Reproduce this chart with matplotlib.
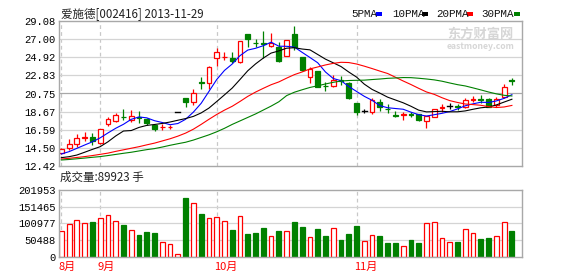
import matplotlib
matplotlib.use("Agg")
import matplotlib.pyplot as plt
import numpy as np
import pandas as pd
from matplotlib.patches import Rectangle

plt.rcParams['font.family'] = ['Noto Sans CJK SC', 'DejaVu Sans']

# ---------------- data ----------------
title = "爱施德[002416] 2013-11-29"
opens = [13.87, 14.50, 14.95, 15.65, 15.79, 15.10, 17.20, 17.55, 18.03, 17.72,
         18.00, 17.82, 17.13, 16.90, 16.90, 18.65, 20.27, 19.80, 22.05, 21.92,
         24.79, 24.95, 24.79, 24.33, 27.59, 26.55, 26.52, 26.20, 26.05, 25.10,
         27.59, 24.90, 22.68, 23.33, 21.65, 21.60, 22.25, 21.99, 19.62, 18.78,
         18.66, 19.74, 19.00, 18.26, 18.30, 18.38, 18.36, 17.60, 18.09, 19.10,
         19.35, 19.27, 19.24, 20.05, 20.10, 20.08, 19.43, 20.31, 22.25]
highs = [14.45, 15.55, 16.06, 16.29, 16.17, 16.70, 18.00, 18.55, 19.00, 18.85,
         18.78, 17.90, 17.13, 17.20, 17.12, 18.65, 20.27, 21.27, 22.68, 23.91,
         26.02, 25.56, 25.48, 26.80, 27.59, 26.97, 27.93, 27.66, 26.63, 26.90,
         28.50, 24.98, 23.83, 23.33, 22.10, 22.87, 22.80, 22.10, 19.62, 19.00,
         20.20, 20.08, 19.50, 18.74, 18.66, 18.66, 18.36, 18.20, 19.00, 19.50,
         19.70, 19.50, 20.20, 20.46, 20.58, 20.20, 20.31, 21.84, 22.57]
lows = [13.80, 14.26, 14.64, 15.33, 14.83, 14.95, 17.00, 17.44, 17.70, 17.50,
        17.32, 17.10, 16.44, 16.60, 16.67, 18.65, 19.24, 19.43, 21.27, 21.27,
        23.95, 24.60, 24.20, 24.30, 26.05, 26.05, 24.79, 26.05, 24.40, 25.10,
        25.80, 23.37, 21.90, 21.46, 21.04, 21.46, 21.70, 20.08, 18.28, 18.47,
        18.40, 18.78, 18.47, 18.00, 17.70, 18.10, 17.60, 16.82, 18.00, 18.66,
        19.00, 18.85, 19.04, 19.80, 19.70, 19.16, 19.24, 20.20, 21.72]
closes = [14.37, 15.00, 15.60, 15.71, 15.33, 16.63, 17.82, 18.28, 18.00, 18.20,
          17.97, 17.32, 16.63, 16.95, 16.95, 18.65, 19.75, 20.77, 22.00, 23.76,
          25.48, 24.99, 24.48, 26.78, 26.97, 26.50, 26.48, 26.50, 24.48, 26.90,
          26.05, 23.45, 23.56, 21.46, 21.60, 22.30, 22.20, 20.19, 18.66, 18.78,
          20.00, 19.16, 18.97, 18.22, 18.36, 18.33, 17.70, 18.20, 18.97, 19.16,
          19.35, 19.22, 20.00, 20.10, 20.05, 19.24, 20.08, 21.50, 22.20]
volumes = [78400, 98500, 111500, 101500, 105500, 116500, 125600, 108500, 96500, 81400,
           66300, 75400, 72300, 45200, 39200, 8000, 177800, 161800, 129600, 116500,
           119600, 108500, 81400, 122600, 69300, 72300, 87400, 62300, 78400, 78400,
           105500, 90400, 59300, 84400, 63300, 86400, 51200, 69300, 93400, 47200,
           65300, 63300, 42200, 42200, 32200, 51200, 42200, 101500, 104500, 56300,
           44200, 45200, 83400, 71300, 54300, 57300, 62300, 104500, 78400]

ma5_head = [13.80, 14.07, 14.45, 14.83]
ma10_head = [13.38, 13.49, 13.68, 14.00, 14.33, 14.64, 15.20, 15.87, 16.44]
ma20_head = [13.22, 13.30, 13.40, 13.50, 13.62, 13.76, 13.90, 14.10, 14.28, 14.46,
             14.64, 14.85, 15.05, 15.30, 15.55, 15.85, 16.20, 16.65, 17.20]
ma30_head = [13.11, 13.17, 13.25, 13.33, 13.42, 13.50, 13.62, 13.75, 13.88, 14.00,
             14.15, 14.30, 14.42, 14.60, 14.80, 14.98, 15.15, 15.40, 15.70, 16.00,
             16.35, 16.75, 17.20, 17.60, 18.00, 18.40, 18.85, 19.30, 19.80]

price_ticks = [12.42, 14.50, 16.59, 18.67, 20.75, 22.83, 24.92, 27.00, 29.08]
vol_ticks = [0, 50488, 100977, 151465, 201953]
month_labels = ["8月", "9月", "10月", "11月"]
month_starts = [0, 5, 20, 38]
ma_names = ["5PMA", "10PMA", "20PMA", "30PMA"]
ma_colors = ["#0000ff", "#000000", "#ff0000", "#008000"]
last_volume_text = "成交量:89923 手"

# ---------------- helpers ----------------
n = len(closes)
idx = np.arange(n)
cs = pd.Series(closes)

def moving(win, head):
    m = cs.rolling(win).mean().to_numpy()
    m[:len(head)] = head
    return m

mas = [moving(5, ma5_head), moving(10, ma10_head),
       moving(20, ma20_head), moving(30, ma30_head)]

RED = "#ff0000"
GREEN = "#008000"
W, H = 578, 276
fig = plt.figure(figsize=(W / 100, H / 100), dpi=100)

def fx(px):
    return px / W

def fy(py):
    return 1 - py / H

ax = fig.add_axes([fx(59), fy(166), fx(522 - 59), (166 - 21) / H])
axv = fig.add_axes([fx(59), fy(257), fx(522 - 59), (257 - 190) / H])

xlim = (-0.3, n - 0.3 + 0.6)
mono = ['Liberation Mono', 'DejaVu Sans Mono']
for a in (ax, axv):
    a.set_xlim(*xlim)
    for s in a.spines.values():
        s.set_color("#a8a8a8")
        s.set_linewidth(1.0)
    a.tick_params(axis='both', length=0, pad=2.5, labelsize=7.6)
    a.set_xticks([])
    for ms in month_starts:
        a.axvline(ms, color="#c8c8c8", lw=0.9, ls=(0, (3, 2.5)), zorder=0)

# price panel
ax.set_ylim(price_ticks[0], price_ticks[-1])
ax.set_yticks(price_ticks)
ax.set_yticklabels([f"{t:.2f}" for t in price_ticks], family=mono)
for k, t in enumerate(price_ticks[1:-1]):
    ax.axhline(t, color="#a8a8a8" if t == price_ticks[4] else "#d4d4d4",
               lw=0.9, zorder=0)

bw = 0.62
for i in idx:
    o, h, l, c = opens[i], highs[i], lows[i], closes[i]
    if c > o:
        col = RED
    elif c < o:
        col = GREEN
    else:
        col = "#000000"
    ax.plot([i, i], [l, h], color=col, lw=0.9, zorder=2, solid_capstyle='butt')
    if c == o:
        ax.plot([i - bw / 2, i + bw / 2], [o, o], color=col, lw=1.0, zorder=2.5)
    else:
        lo, hi = min(o, c), max(o, c)
        ax.add_patch(Rectangle((i - bw / 2, lo), bw, hi - lo,
                               facecolor="white" if c > o else GREEN,
                               edgecolor=col, lw=0.9, zorder=2.5))

for m, colr in zip(mas, ma_colors):
    ax.plot(idx, m, color=colr, lw=0.8, zorder=3)

# volume panel
axv.set_ylim(0, vol_ticks[-1])
axv.set_yticks(vol_ticks)
axv.set_yticklabels([str(t) for t in vol_ticks], family=mono)
for t in vol_ticks[1:-1]:
    axv.axhline(t, color="#d4d4d4", lw=0.9, zorder=0)
for i in idx:
    up = closes[i] >= opens[i]
    axv.add_patch(Rectangle((i - bw / 2, 0), bw, volumes[i],
                            facecolor="white" if up else GREEN,
                            edgecolor=RED if up else GREEN, lw=0.9, zorder=2))

for lab, ms in zip(month_labels, month_starts):
    axv.text(ms - 0.35, -0.15, lab, transform=axv.get_xaxis_transform(),
             ha='left', va='center', color=RED, fontsize=8)

# texts
fig.text(fx(61), fy(14), title, ha='left', va='center', fontsize=8.3, color="#222222")
fig.text(fx(60), fy(177), last_volume_text, ha='left', va='center', fontsize=8.3,
         color="#222222")

# legend
legend_x = [351, 392, 436, 481]
dash_x = [376, 422, 467, 514]
for name, colr, tx, dx in zip(ma_names, ma_colors, legend_x, dash_x):
    fig.text(fx(tx), fy(14), name, ha='left', va='center', fontsize=7.8,
             family=mono, color="#111111")
    fig.patches.append(Rectangle((fx(dx), fy(15.5)), fx(6), 3 / H,
                                 transform=fig.transFigure, facecolor=colr,
                                 edgecolor='none'))

# watermark
fig.text(fx(480), fy(33.5), "东方财富网", ha='center', va='center', fontsize=9.5,
         fontweight='bold', color="#d6d6d6", zorder=0)
fig.text(fx(481), fy(46.5), "eastmoney.com", ha='center', va='center', fontsize=6.2,
         fontweight='bold', color="#d6d6d6", zorder=0)

fig.savefig("out.png", dpi=100)
